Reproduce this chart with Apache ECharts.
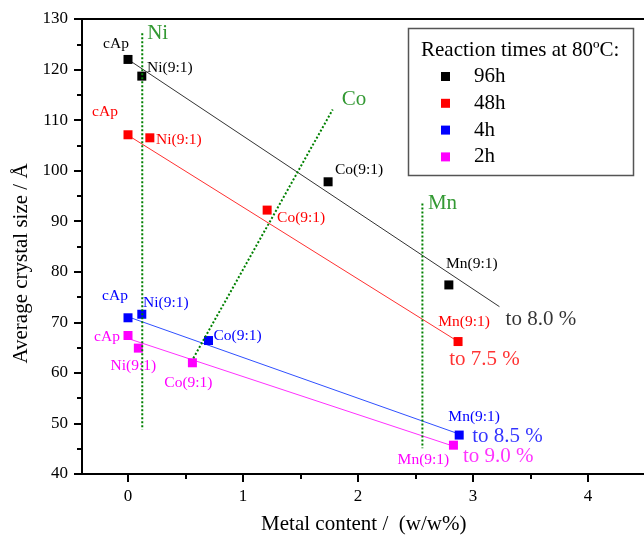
<!DOCTYPE html>
<html><head><meta charset="utf-8">
<script src="https://cdn.jsdelivr.net/npm/echarts@6/dist/echarts.min.js"></script>
<style>html,body{margin:0;padding:0;background:#fff}#c{width:644px;height:539px}</style>
</head><body><div id="c"></div>
<script>
// ---- data ----
const pointNames = ['cAp', 'Ni(9:1)', 'Co(9:1)', 'Mn(9:1)'];
const seriesNames = ['96h', '48h', '4h', '2h'];
const data96h = [[0, 122.0], [0.12, 118.7], [1.74, 97.8], [2.79, 77.4]];
const data48h = [[0, 107.1], [0.19, 106.5], [1.21, 92.2], [2.87, 66.2]];
const data4h  = [[0, 70.9], [0.12, 71.6], [0.70, 66.4], [2.88, 47.7]];
const data2h  = [[0, 67.4], [0.09, 64.9], [0.56, 62.0], [2.83, 45.7]];
const fit96h = [[0, 122.0], [3.23, 73.1]];
const fit48h = [[0, 107.0], [2.87, 66.2]];
const fit4h  = [[0, 71.1], [2.88, 47.9]];
const fit2h  = [[0, 66.8], [2.83, 45.5]];
const guideNi = [[0.124, 127.2], [0.124, 48.8]];
const guideCo = [[0.568, 62.9], [1.78, 112.1]];
const guideMn = [[2.56, 93.5], [2.56, 45.1]];
const guideNames = ['Ni', 'Co', 'Mn'];
const guideTextPos = [[0.258, 127.2], [1.965, 114.0], [2.735, 93.6]];
const endTexts = ['to 8.0 %', 'to 7.5 %', 'to 8.5 %', 'to 9.0 %'];
const endTextPos = [[3.59, 70.5], [3.10, 62.6], [3.30, 47.4], [3.22, 43.4]];
const xLabelTicks = [0, 1, 2, 3, 4];
const xMinorTicks = [0.5, 1.5, 2.5, 3.5];

// ---- styles ----
const FONT = 'Liberation Serif';
const colors = ['#000000', '#ff0000', '#0000ff', '#ff00ff'];
const lineColors = ['#333333', '#ff3030', '#3050ff', '#ff30ff'];
const GREEN = '#008000';
const labelOffsets = [
  [[-12, -16], [28, -8], [31, -12], [23, -21]],
  [[-23, -23], [29, 2], [34, 8], [6, -20]],
  [[-13, -22], [24, -11], [29, -5], [15, -18]],
  [[-21, 1], [-5, 18], [-4, 20], [-30, 15]]
];
const allData = [data96h, data48h, data4h, data2h];
const allFits = [fit96h, fit48h, fit4h, fit2h];
const guides = [guideNi, guideCo, guideMn];

const series = [];
allFits.forEach((f, i) => series.push({
  type: 'line', name: 'fit' + i, data: f, symbol: 'none', silent: true,
  lineStyle: {color: lineColors[i], width: 1}, z: 2
}));
guides.forEach((g, i) => series.push({
  type: 'line', name: 'guide' + i, data: g, symbol: 'none', silent: true,
  lineStyle: {color: GREEN, width: 2, type: [2, 2]}, z: 4
}));
allData.forEach((d, i) => series.push({
  type: 'scatter', name: seriesNames[i], symbol: 'rect', symbolSize: 9,
  itemStyle: {color: colors[i], opacity: 1}, z: 3,
  data: d.map((p, j) => ({
    value: p, name: pointNames[j],
    label: {offset: labelOffsets[i][j]}
  })),
  label: {show: true, position: 'inside', formatter: '{b}', color: colors[i],
    fontFamily: FONT, fontSize: 15.5, align: 'center', verticalAlign: 'middle'}
}));
series.push({
  type: 'scatter', name: 'guideText', symbolSize: 1, silent: true,
  itemStyle: {color: 'rgba(0,0,0,0)'},
  data: guideTextPos.map((p, i) => ({value: p, name: guideNames[i]})),
  label: {show: true, position: 'inside', formatter: '{b}', color: GREEN,
    fontFamily: FONT, fontSize: 21}
});
series.push({
  type: 'scatter', name: 'endText', symbolSize: 1, silent: true,
  itemStyle: {color: 'rgba(0,0,0,0)'},
  data: endTextPos.map((p, i) => ({value: p, name: endTexts[i], label: {color: colors[i]}})),
  label: {show: true, position: 'inside', formatter: '{b}',
    fontFamily: FONT, fontSize: 21}
});

const axisText = {color: '#000', fontFamily: FONT, fontSize: 17};
const chart = echarts.init(document.getElementById('c'), null, {renderer: 'canvas'});
chart.setOption({
  animation: false,
  backgroundColor: '#fff',
  grid: {left: 82, top: 19, right: -1.5, bottom: 65, show: true, borderColor: '#000', borderWidth: 2,
    containLabel: false, outerBoundsMode: 'none'},
  xAxis: [{
    type: 'value', min: -0.4, max: 4.5,
    axisLine: {show: true, onZero: false, lineStyle: {color: '#000', width: 2}},
    axisTick: {show: true, length: 8, lineStyle: {color: '#000', width: 2}, customValues: xLabelTicks},
    axisLabel: {...axisText, margin: 14, customValues: xLabelTicks},
    splitLine: {show: false},
    name: 'Metal content /  (w/w%)', nameLocation: 'middle', nameGap: 40,
    nameTextStyle: {color: '#000', fontFamily: FONT, fontSize: 21}
  }, {
    type: 'value', min: -0.4, max: 4.5, position: 'bottom',
    axisLine: {show: false, onZero: false},
    axisTick: {show: true, length: 5, lineStyle: {color: '#000', width: 2}, customValues: xMinorTicks},
    axisLabel: {show: false}, splitLine: {show: false}
  }],
  yAxis: {
    type: 'value', min: 40, max: 130, interval: 10,
    axisLine: {show: true, onZero: false, lineStyle: {color: '#000', width: 2}},
    axisTick: {show: true, length: 8, lineStyle: {color: '#000', width: 2}},
    minorTick: {show: true, splitNumber: 2, length: 5, lineStyle: {color: '#000', width: 2}},
    axisLabel: {...axisText, margin: 14},
    splitLine: {show: false},
    name: 'Average crystal size / Å', nameLocation: 'middle', nameGap: 50,
    nameTextStyle: {color: '#000', fontFamily: FONT, fontSize: 21, padding: [0, 34, 0, 0]}
  },
  legend: {
    data: seriesNames, orient: 'vertical', left: 441, top: 66, padding: 0, z: 20,
    icon: 'rect', itemWidth: 9, itemHeight: 9, itemGap: 5.8, selectedMode: false,
    itemStyle: {opacity: 1},
    textStyle: {color: '#000', fontFamily: FONT, fontSize: 21, lineHeight: 21, padding: [0, 0, 0, 19]}
  },
  graphic: [
    {type: 'rect', shape: {x: 408.5, y: 28.5, width: 225, height: 147},
      style: {fill: '#fff', stroke: '#555', lineWidth: 1.5}, z: 10},
    {type: 'text', x: 421, y: 50, z: 11,
      style: {text: 'Reaction times at 80ºC:', font: '21px "Liberation Serif"', fill: '#000', verticalAlign: 'middle'}}
  ],
  series: series
});
</script></body></html>
